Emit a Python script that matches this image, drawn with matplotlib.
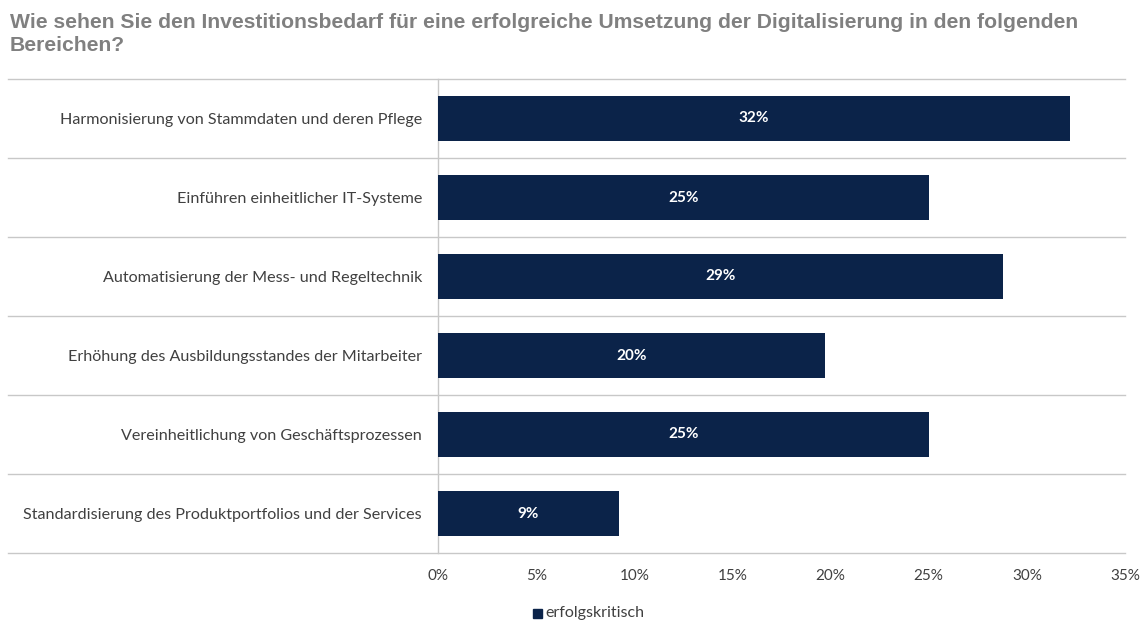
import matplotlib
matplotlib.use("Agg")
import matplotlib.pyplot as plt
from matplotlib.patches import Rectangle

categories = [
    "Harmonisierung von Stammdaten und deren Pflege",
    "Einführen einheitlicher IT-Systeme",
    "Automatisierung der Mess- und Regeltechnik",
    "Erhöhung des Ausbildungsstandes der Mitarbeiter",
    "Vereinheitlichung von Geschäftsprozessen",
    "Standardisierung des Produktportfolios und der Services",
]
values = [32.2, 25.0, 28.8, 19.7, 25.0, 9.2]
x_ticks = [0, 5, 10, 15, 20, 25, 30, 35]
series_name = "erfolgskritisch"
title = ("Wie sehen Sie den Investitionsbedarf für eine erfolgreiche Umsetzung der Digitalisierung in den folgenden\n"
         "Bereichen?")

BAR = "#0b2349"
GRID = "#c8c8c8"
TEXT = "#404040"
FONT = ["Lato", "DejaVu Sans"]

W, H = 1141, 622
fig = plt.figure(figsize=(W / 100, H / 100), dpi=100)
ax = fig.add_axes([438 / W, 1 - 553 / H, (1125 - 438) / W, (553 - 79) / H])

n = len(categories)
ypos = list(range(n))
ax.barh(ypos, values, height=0.57, color=BAR, zorder=3)
for y, v in zip(ypos, values):
    ax.text(v / 2, y, f"{v:.0f}%", ha="center", va="center", color="white",
            fontsize=11, fontweight="bold", family=FONT, zorder=4)

ax.set_xlim(0, 35)
ax.set_ylim(n - 0.5, -0.5)

# category separators reach into the label area on the left
ext = -(438 - 8) / (1125 - 438)
for b in [i - 0.5 for i in range(n + 1)]:
    ax.axhline(b, xmin=ext, xmax=1, color=GRID, lw=1.0, clip_on=False, zorder=1)

for s in ["top", "right", "bottom"]:
    ax.spines[s].set_visible(False)
ax.spines["left"].set_color(GRID)
ax.spines["left"].set_linewidth(1.0)

ax.set_yticks(ypos)
ax.set_yticklabels(categories, fontsize=11.6, color=TEXT, family=FONT)
ax.tick_params(axis="y", length=0, pad=11.5)
ax.set_xticks(x_ticks)
ax.set_xticklabels([f"{t}%" for t in x_ticks], fontsize=11, color=TEXT, family=FONT)
ax.tick_params(axis="x", length=0, pad=11.5)

fig.text(10 / W, 1 - 13 / H, title, ha="left", va="top", fontsize=15.2,
         fontweight="bold", color="#808080", family=["Liberation Sans", "DejaVu Sans"],
         linespacing=1.28)

# legend
fig.patches.append(Rectangle((533 / W, 1 - 618 / H), 9 / W, 9 / H,
                             transform=fig.transFigure, color=BAR))
fig.text(545 / W, 1 - 613 / H, series_name, ha="left", va="center", fontsize=11.5,
         color=TEXT, family=FONT)

fig.savefig("out.png", dpi=100, facecolor="white")
